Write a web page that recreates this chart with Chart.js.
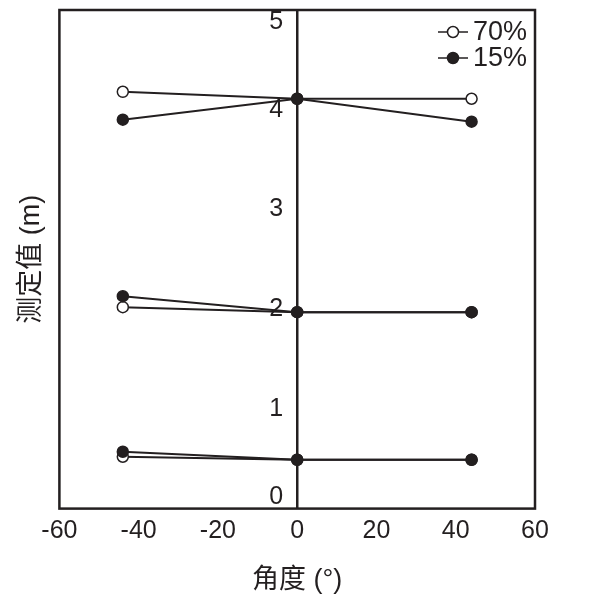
<!DOCTYPE html>
<html>
<head>
<meta charset="utf-8">
<script src="https://cdn.jsdelivr.net/npm/chart.js@4/dist/chart.umd.min.js"></script>
<style>
    html, body { margin: 0; padding: 0; background: #fff; }
    #chart { display: block; }
</style>
</head>
<body>
<canvas id="chart" width="600" height="600"></canvas>
<script>
// angles (x) of the three measuring positions
const angles = [-44, 0, 44];

// 70% series, three groups of measurements
const high70 = [4.18, 4.11, 4.11];
const mid70 = [2.02, 1.97, 1.97];
const low70 = [0.52, 0.49, 0.49];

// 15% series
const high15 = [3.90, 4.11, 3.88];
const mid15 = [2.13, 1.97, 1.97];
const low15 = [0.57, 0.49, 0.49];

const yTicks = [0, 1, 2, 3, 4, 5];
const xTicks = [-60, -40, -20, 0, 20, 40, 60];

const ink = '#231f20';
const latin = '"Liberation Sans", Arial, sans-serif';
const cjk = '"Liberation Sans", "Noto Sans CJK SC", sans-serif';

function points(values) {
    return values.map((v, i) => ({ x: angles[i], y: v }));
}

function series(label, values, filled, first) {
    return {
        label: label,
        data: points(values),
        showLine: true,
        borderColor: ink,
        borderWidth: 2,
        pointRadius: 5.5,
        pointHoverRadius: 5.5,
        pointBorderWidth: 1.5,
        pointBorderColor: ink,
        pointBackgroundColor: filled ? ink : '#fff',
        order: filled ? 0 : 1,
        inLegend: first
    };
}

// frame, y tick labels next to the centre axis, and the legend
const extras = {
    id: 'extras',
    afterDraw(chart) {
        const ctx = chart.ctx;
        const a = chart.chartArea;
        const y = chart.scales.y;
        const x0 = chart.scales.x.getPixelForValue(0);
        ctx.save();
        ctx.strokeStyle = ink;
        ctx.lineWidth = 2.5;
        ctx.strokeRect(a.left, a.top, a.right - a.left, a.bottom - a.top);

        ctx.fillStyle = ink;
        ctx.font = '25px ' + latin;
        ctx.textAlign = 'right';
        ctx.textBaseline = 'middle';
        yTicks.forEach(v => {
            let py = y.getPixelForValue(v);
            py = Math.max(a.top + 12, Math.min(a.bottom - 11, py));
            ctx.fillText(String(v), x0 - 14, py);
        });

        const items = chart.data.datasets.filter(d => d.inLegend);
        ctx.font = '27px ' + latin;
        ctx.textAlign = 'left';
        items.forEach((d, i) => {
            const ly = a.top + 22 + i * 26;
            const lx = a.right - 97;
            ctx.strokeStyle = ink;
            ctx.lineWidth = 1.5;
            ctx.beginPath();
            ctx.moveTo(lx, ly);
            ctx.lineTo(lx + 30, ly);
            ctx.stroke();
            ctx.beginPath();
            ctx.arc(lx + 15, ly, 5.5, 0, Math.PI * 2);
            ctx.fillStyle = d.pointBackgroundColor;
            ctx.fill();
            ctx.stroke();
            ctx.fillStyle = ink;
            ctx.fillText(d.label, lx + 35, ly + 1);
        });
        ctx.restore();
    }
};

new Chart(document.getElementById('chart').getContext('2d'), {
    type: 'scatter',
    data: {
        datasets: [
            series('70%', high70, false, true),
            series('70%', mid70, false, false),
            series('70%', low70, false, false),
            series('15%', high15, true, true),
            series('15%', mid15, true, false),
            series('15%', low15, true, false)
        ]
    },
    options: {
        responsive: false,
        animation: false,
        devicePixelRatio: 1,
        layout: { padding: { top: 10, right: 65, bottom: 3, left: 11 } },
        plugins: {
            legend: { display: false },
            tooltip: { enabled: false }
        },
        scales: {
            x: {
                type: 'linear',
                position: 'bottom',
                min: -60,
                max: 60,
                afterBuildTicks: scale => { scale.ticks = xTicks.map(v => ({ value: v })); },
                grid: { display: false, drawTicks: false },
                border: { display: false },
                ticks: { color: ink, font: { family: latin, size: 25 }, padding: 8, maxRotation: 0, autoSkip: false },
                title: {
                    display: true,
                    text: '角度 (°)',
                    color: ink,
                    font: { family: cjk, size: 27 },
                    padding: { top: 10, bottom: 0 }
                }
            },
            y: {
                type: 'linear',
                position: { x: 0 },
                min: 0,
                max: 5,
                grid: { display: false, drawTicks: false },
                border: { display: true, color: ink, width: 2.5 },
                ticks: { display: false }
            },
            yTitle: {
                type: 'linear',
                position: 'left',
                min: 0,
                max: 5,
                grid: { display: false, drawTicks: false },
                border: { display: false },
                ticks: { display: false },
                title: {
                    display: true,
                    text: '测定值 (m)',
                    color: ink,
                    font: { family: cjk, size: 27 },
                    padding: { top: 4, bottom: 12 }
                }
            }
        }
    },
    plugins: [extras]
});
</script>
</body>
</html>
